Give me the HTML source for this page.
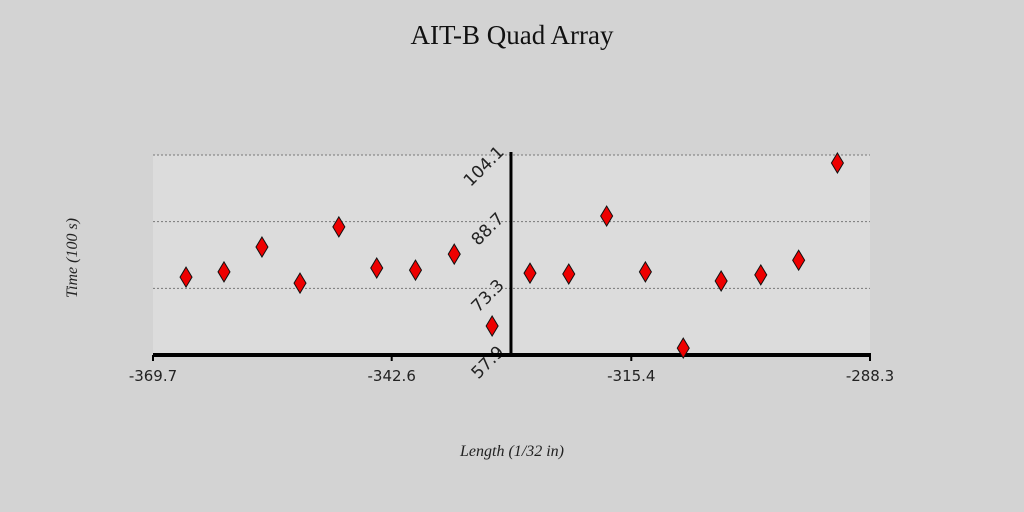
<!DOCTYPE html>
<html><head><meta charset="utf-8"><style>
html,body{margin:0;padding:0;background:#d3d3d3;width:1024px;height:512px;overflow:hidden}
</style></head><body>
<svg width="1024" height="512" xmlns="http://www.w3.org/2000/svg">
<rect width="1024" height="512" fill="#d3d3d3"/>
<text x="512" y="44" text-anchor="middle" font-family="Liberation Serif, serif" font-size="27" fill="#111">AIT-B Quad Array</text>
<g id="plot"></g>
<text x="512" y="456" text-anchor="middle" font-family="Liberation Serif, serif" font-style="italic" font-size="16" fill="#222">Length (1/32 in)</text>
<text transform="translate(77,258) rotate(-90)" text-anchor="middle" font-family="Liberation Serif, serif" font-style="italic" font-size="16" fill="#222">Time (100 s)</text>
</svg>
<script>
const xVals=[-365.95,-361.64,-357.33,-353.01,-348.6,-344.3,-339.9,-335.5,-331.2,-326.9,-322.5,-318.2,-313.8,-309.5,-305.2,-300.7,-296.4,-292.0];
const yVals=[75.9,77.1,82.85,74.5,87.5,78.0,77.5,81.2,64.6,76.8,76.6,90.0,77.1,59.5,75.0,76.4,79.8,102.25];
const xTicks=[-369.7,-342.6,-315.4,-288.3];
const yTicks=[57.9,73.3,88.7,104.1];
const X0=153,X1=870,Y0=355,Y1=155;
const xMin=-369.7,xMax=-288.3,yMin=57.9,yMax=104.1;
const sx=v=>X0+(v-xMin)/(xMax-xMin)*(X1-X0);
const sy=v=>Y0-(v-yMin)/(yMax-yMin)*(Y0-Y1);
const NS='http://www.w3.org/2000/svg';
const g=document.getElementById('plot');
function mk(t,a){const e=document.createElementNS(NS,t);for(const k in a)e.setAttribute(k,a[k]);g.appendChild(e);return e;}
let r=mk('rect',{x:X0,y:Y1,width:X1-X0,height:Y0-Y1,fill:'#dcdcdc'});


const axX=sx(-329.06);
yTicks.forEach((t,i)=>{
  if(i>0){let l=mk('line',{x1:X0,x2:X1,y1:sy(t),y2:sy(t),stroke:'#777','stroke-dasharray':'2,2','stroke-width':1});
  
  }
  let tx=mk('text',{transform:`translate(${axX-6},${sy(t)-2}) rotate(-45)`,'text-anchor':'end','font-family':'DejaVu Sans, sans-serif','font-size':17,fill:'#222'});
  tx.textContent=t.toFixed(1);
  
  
});
xTicks.forEach(t=>{
  let l=mk('line',{x1:sx(t),x2:sx(t),y1:Y0,y2:Y0+6,stroke:'#000','stroke-width':2});
  
  
  let tx=mk('text',{x:sx(t),y:Y0+26,'text-anchor':'middle','font-family':'DejaVu Sans, sans-serif','font-size':15,fill:'#222'});
  tx.textContent=t.toFixed(1);
  
  
});
let xa=mk('line',{x1:X0,x2:X1+1,y1:Y0,y2:Y0,stroke:'#000','stroke-width':4});


let ya=mk('line',{x1:axX,x2:axX,y1:Y1-3,y2:Y0,stroke:'#000','stroke-width':3});


xVals.forEach((v,i)=>{
  const cx=sx(v),cy=sy(yVals[i]);
  let p=mk('polygon',{points:`${cx},${cy-10} ${cx+6},${cy} ${cx},${cy+10} ${cx-6},${cy}`,fill:'#ee0000',stroke:'#111','stroke-width':1});
  
  
});
</script>
</body></html>
